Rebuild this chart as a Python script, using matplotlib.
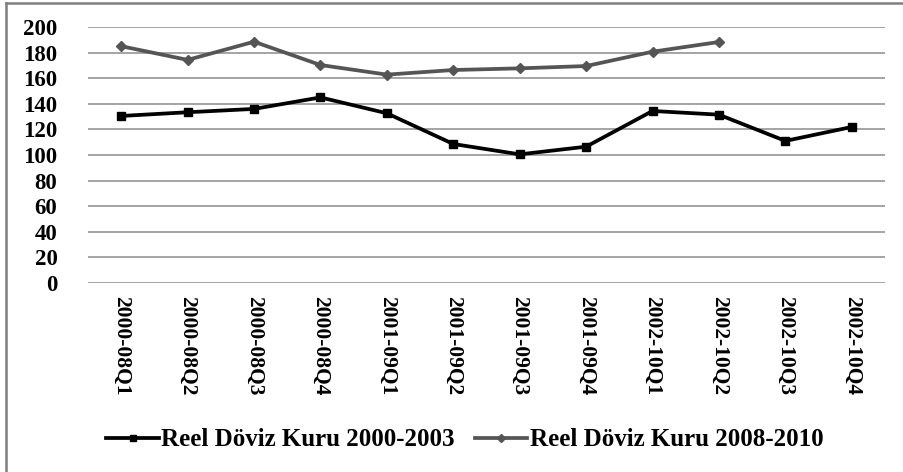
import matplotlib

matplotlib.use("Agg")
import matplotlib.pyplot as plt
from matplotlib.lines import Line2D

plt.rcParams["font.family"] = ["Liberation Serif", "DejaVu Serif"]
plt.rcParams["font.weight"] = "bold"

quarters = ["2000-08Q1", "2000-08Q2", "2000-08Q3", "2000-08Q4",
            "2001-09Q1", "2001-09Q2", "2001-09Q3", "2001-09Q4",
            "2002-10Q1", "2002-10Q2", "2002-10Q3", "2002-10Q4"]
kur_2000_2003 = [130.5, 133.4, 136.0, 145.0, 132.6, 108.6,
                 100.5, 106.5, 134.4, 131.5, 111.0, 121.9]
kur_2008_2010 = [185.0, 174.3, 188.5, 170.3, 162.8, 166.4,
                 167.7, 169.5, 180.7, 188.3]
yticks = list(range(0, 201, 20))

GRID = "#8c8c8c"
fig = plt.figure(figsize=(9.04, 4.72), dpi=100)
ax = fig.add_axes([88 / 904, 189 / 472, 797 / 904, 256 / 472])

x1 = list(range(len(kur_2000_2003)))
x2 = list(range(len(kur_2008_2010)))
ax.plot(x1, kur_2000_2003, color="black", lw=2.7, marker="s", ms=5.5,
        label="Reel Döviz Kuru 2000-2003", zorder=3)
ax.plot(x2, kur_2008_2010, color="#555555", lw=2.7, marker="D", ms=5,
        label="Reel Döviz Kuru 2008-2010", zorder=3)

ax.set_xlim(-0.5, len(quarters) - 0.5)
ax.set_ylim(0, 200)
ax.set_yticks(yticks)
ax.set_yticklabels([str(v) for v in yticks], fontsize=16.5, fontweight="bold")
ax.set_xticks(range(len(quarters)))
ax.set_xticklabels(quarters, rotation=270, fontsize=15.5, fontweight="bold",
                   va="top", ha="center")
ax.tick_params(axis="both", length=0)
ax.tick_params(axis="y", pad=22)
ax.tick_params(axis="x", pad=9)
ax.yaxis.grid(True, color=GRID, lw=1.1)
ax.set_axisbelow(True)
for s in ax.spines.values():
    s.set_visible(False)

ax.legend(loc="center", bbox_to_anchor=(465 / 904, 1 - 440 / 472),
          bbox_transform=fig.transFigure, ncol=2, frameon=False,
          prop={"size": 18, "weight": "bold"}, handlelength=2.1,
          handletextpad=0.1, columnspacing=0.8, markerscale=0.75)

# outer chart border (only left and top are visible in the crop)
fig.add_artist(Line2D([6 / 904, 6 / 904], [0, 1 - 3 / 472],
                      transform=fig.transFigure, color="#7f7f7f", lw=1.8))
fig.add_artist(Line2D([6 / 904, 1], [1 - 3 / 472, 1 - 3 / 472],
                      transform=fig.transFigure, color="#7f7f7f", lw=1.8))

fig.savefig("out.png", dpi=100)
